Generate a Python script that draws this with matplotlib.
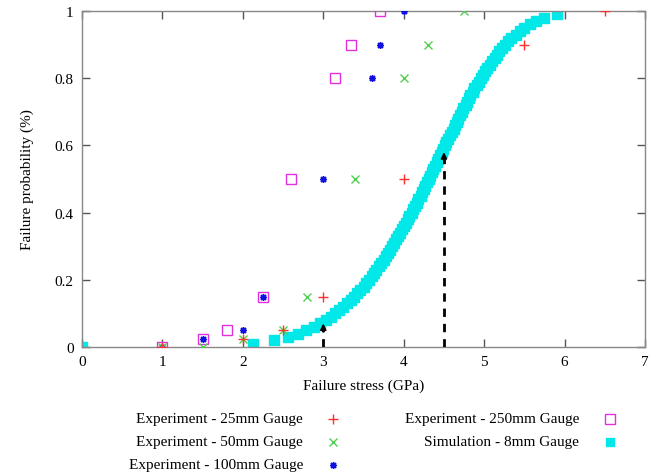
import numpy as np
import matplotlib
matplotlib.use("Agg")
import matplotlib.pyplot as plt
from matplotlib.lines import Line2D
from matplotlib.ticker import FuncFormatter

plt.rcParams['font.family'] = ['Liberation Serif', 'DejaVu Serif']

# experiment data (failure stress in GPa, failure probability)
x_25 = [1.0, 2.0, 2.5, 3.0, 4.0, 5.5, 6.5]
y_25 = [0.0, 0.025, 0.05, 0.15, 0.5, 0.9, 1.0]

x_50 = [1.0, 1.5, 2.0, 2.5, 2.8, 3.4, 4.0, 4.3, 4.75]
y_50 = [0.0, 0.0, 0.025, 0.05, 0.15, 0.5, 0.8, 0.9, 1.0]

x_100 = [1.0, 1.5, 2.0, 2.25, 3.0, 3.6, 3.7, 4.0]
y_100 = [0.0, 0.025, 0.05, 0.15, 0.5, 0.8, 0.9, 1.0]

x_250 = [1.0, 1.5, 1.8, 2.25, 2.6, 3.15, 3.35, 3.7]
y_250 = [0.0, 0.025, 0.05, 0.15, 0.5, 0.8, 0.9, 1.0]

# simulation (8mm gauge)
sim_x = [0.0, 2.13, 2.39, 2.56, 2.69, 2.79, 2.88, 2.96, 3.03, 3.09, 3.15,
         3.20, 3.25, 3.30, 3.34, 3.38, 3.42, 3.46, 3.50, 3.53, 3.57,
         3.60, 3.63, 3.66, 3.69, 3.72, 3.75, 3.78, 3.80, 3.83, 3.86,
         3.88, 3.91, 3.93, 3.96, 3.98, 4.00, 4.03, 4.05, 4.07, 4.10,
         4.12, 4.14, 4.16, 4.18, 4.21, 4.23, 4.25, 4.27, 4.29, 4.31,
         4.33, 4.35, 4.37, 4.39, 4.41, 4.43, 4.45, 4.47, 4.49, 4.51,
         4.53, 4.55, 4.57, 4.60, 4.62, 4.64, 4.66, 4.68, 4.70, 4.72,
         4.74, 4.77, 4.79, 4.81, 4.83, 4.86, 4.88, 4.91, 4.93, 4.96,
         4.98, 5.01, 5.04, 5.07, 5.10, 5.13, 5.16, 5.19, 5.22, 5.26,
         5.30, 5.34, 5.39, 5.44, 5.50, 5.57, 5.65, 5.75, 5.91]
sim_y = [0.0, 0.01, 0.02, 0.03, 0.04, 0.05, 0.06, 0.07, 0.08, 0.09, 0.10,
         0.11, 0.12, 0.13, 0.14, 0.15, 0.16, 0.17, 0.18, 0.19, 0.20,
         0.21, 0.22, 0.23, 0.24, 0.25, 0.26, 0.27, 0.28, 0.29, 0.30,
         0.31, 0.32, 0.33, 0.34, 0.35, 0.36, 0.37, 0.38, 0.39, 0.40,
         0.41, 0.42, 0.43, 0.44, 0.45, 0.46, 0.47, 0.48, 0.49, 0.50,
         0.51, 0.52, 0.53, 0.54, 0.55, 0.56, 0.57, 0.58, 0.59, 0.60,
         0.61, 0.62, 0.63, 0.64, 0.65, 0.66, 0.67, 0.68, 0.69, 0.70,
         0.71, 0.72, 0.73, 0.74, 0.75, 0.76, 0.77, 0.78, 0.79, 0.80,
         0.81, 0.82, 0.83, 0.84, 0.85, 0.86, 0.87, 0.88, 0.89, 0.90,
         0.91, 0.92, 0.93, 0.94, 0.95, 0.96, 0.97, 0.98, 0.99]

# dashed arrows
arrow_x = [3.0, 4.5]
arrow_y = [0.07, 0.58]

W, H = 659, 477
fig = plt.figure(figsize=(W / 100, H / 100), dpi=100)
ax = fig.add_axes([82 / W, 1 - 348 / H, (645 - 82) / W, (348 - 12) / H])

c_red = '#ff3030'
c_green = '#50d050'
c_blue = '#1010e0'
c_mag = '#e030e0'
c_cyan = '#00e8e8'

star = (8, 2, 0)

ax.plot(sim_x, sim_y, ls='none', marker='s', ms=7, color=c_cyan, mec=c_cyan, zorder=2)
ax.plot(x_250, y_250, ls='none', marker='s', ms=6.5, mfc='none', mec=c_mag, mew=1.0, zorder=3)
ax.plot(x_100, y_100, ls='none', marker=star, ms=5, color=c_blue, mew=1.0, zorder=4)
ax.plot(x_50, y_50, ls='none', marker='x', ms=5.5, color=c_green, mew=1.0, zorder=4)
ax.plot(x_25, y_25, ls='none', marker='+', ms=6.5, color=c_red, mew=1.0, zorder=4)

for xa, ya in zip(arrow_x, arrow_y):
    ax.plot([xa, xa], [0, ya - 0.02], ls=(0, (3, 2.5)), color='black', lw=2, zorder=5)
    ax.annotate('', xy=(xa, ya), xytext=(xa, ya - 0.025),
                arrowprops=dict(arrowstyle='-|>', color='black', lw=1.2,
                                mutation_scale=9, shrinkA=0, shrinkB=0), zorder=5)

ax.set_xlim(0, 7)
ax.set_ylim(0, 1)
ax.set_xticks(range(0, 8))
ax.set_yticks([0, 0.2, 0.4, 0.6, 0.8, 1.0])
ax.yaxis.set_major_formatter(FuncFormatter(lambda v, p: '%g' % v))
ax.tick_params(direction='in', length=6, width=1, color='#555555',
               top=True, right=True, labelsize=11, pad=6)
for s in ax.spines.values():
    s.set_color('#888888')
    s.set_linewidth(1.0)

ax.set_xlabel('Failure stress (GPa)', fontsize=11, labelpad=7)
ax.set_ylabel('Failure probability (%)', fontsize=11, labelpad=15)

# legend drawn below the axes, gnuplot style (label then sample)
entries = [
    ('Experiment - 25mm Gauge', 303, 333, 420, dict(marker='+', ms=6.5, color=c_red, mew=1.0)),
    ('Experiment - 50mm Gauge', 303, 333, 443, dict(marker='x', ms=5.5, color=c_green, mew=1.0)),
    ('Experiment - 100mm Gauge', 303, 333, 466, dict(marker=star, ms=5, color=c_blue, mew=1.0)),
    ('Experiment - 250mm Gauge', 579, 610, 420, dict(marker='s', ms=6.5, mfc='none', mec=c_mag, mew=1.0)),
    ('Simulation - 8mm Gauge', 579, 610, 443, dict(marker='s', ms=6, color=c_cyan, mec=c_cyan)),
]
for label, tx, mx, ty, style in entries:
    fig.text(tx / W, 1 - ty / H, label, ha='right', va='center', fontsize=11)
    fig.add_artist(Line2D([mx / W], [1 - ty / H], transform=fig.transFigure,
                          ls='none', **style))

fig.savefig('out.png', dpi=100)
